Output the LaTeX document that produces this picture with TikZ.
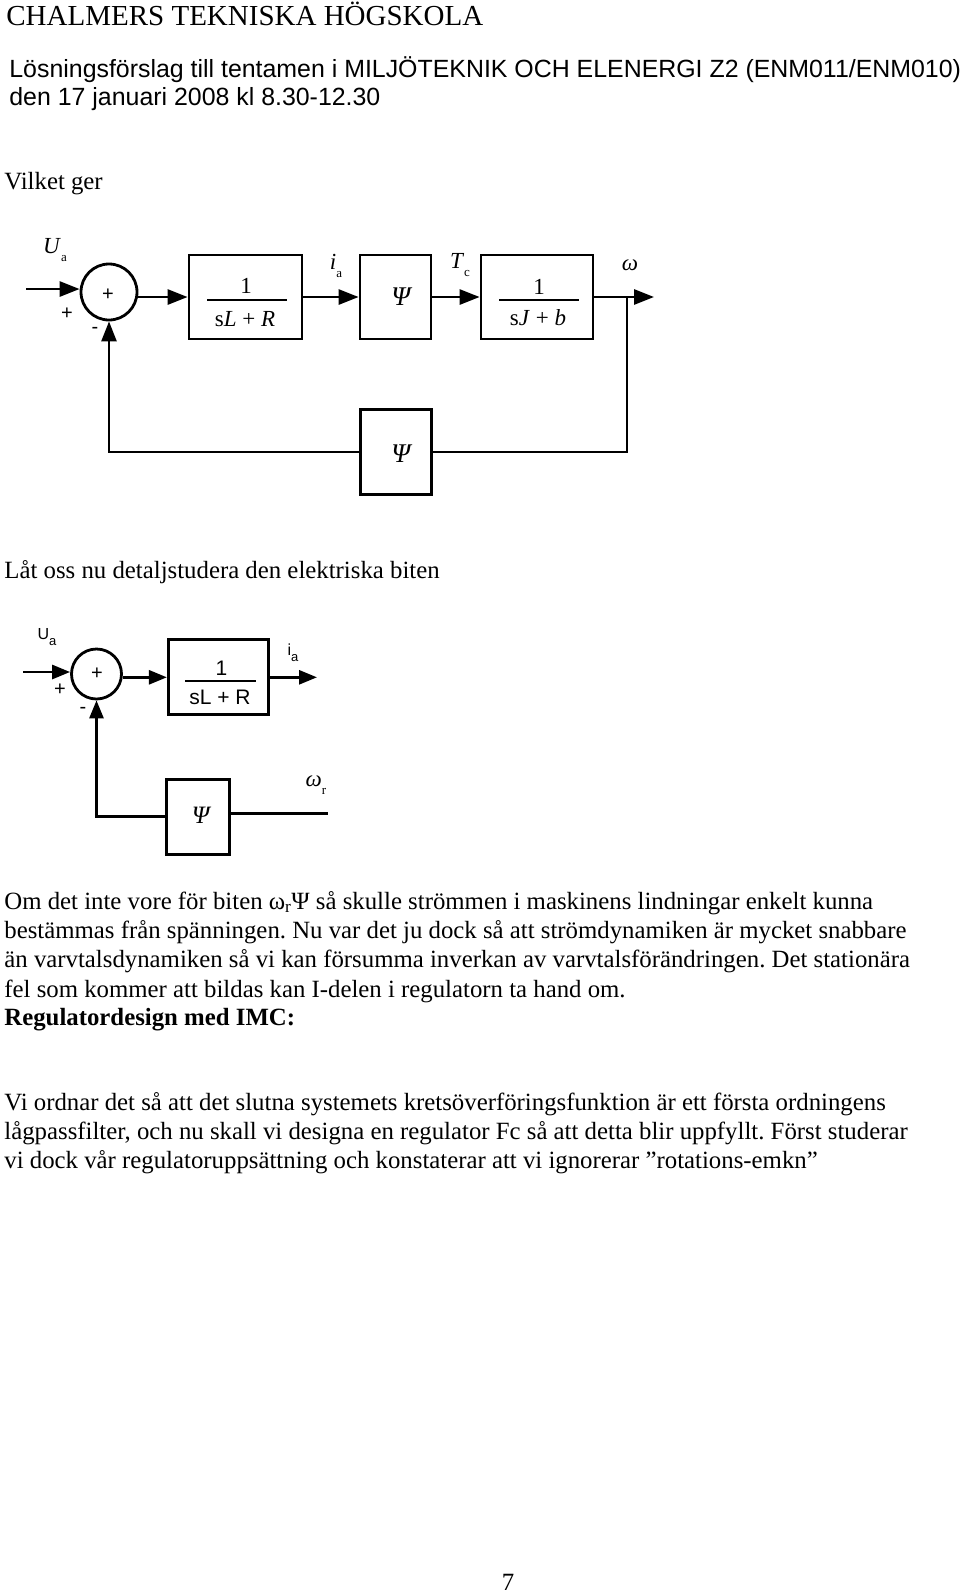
\documentclass[tikz,border=0pt]{standalone}
\usepackage{fontspec}
\setmainfont{Liberation Serif}
\setsansfont{Liberation Sans}
\usetikzlibrary{arrows.meta,calc}
\frenchspacing
\newcommand{\sbsc}[1]{\raisebox{-0.35em}{\fontsize{13}{13}\selectfont #1}}
\begin{document}
\begin{tikzpicture}[x=1pt,y=-1pt,
  line width=2.8pt,
  arr/.style={-{Triangle[length=20pt,width=15pt]}},
  arrb/.style={-{Triangle[length=18pt,width=14pt]}},
  blk/.style={draw,line width=2.8pt,inner sep=0pt},
  sumc/.style={draw,circle,line width=2.8pt,inner sep=0pt},
  txt/.style={anchor=base west,inner sep=0pt,font=\fontsize{24.8}{30}\selectfont},
  lbl/.style={inner sep=0pt,font=\fontsize{23}{23}\selectfont},
  psil/.style={inner sep=0pt,font=\fontsize{27}{27}\selectfont},
  slbl/.style={inner sep=0pt,font=\sffamily\fontsize{20}{20}\selectfont},
  sslbl/.style={inner sep=0pt,font=\sffamily\fontsize{16}{16}\selectfont}]
\useasboundingbox (0,0) rectangle (960,1593);
\fill[white] (0,0) rectangle (960,1593);

% header
\node[txt,font=\fontsize{29}{30}\selectfont] (h1) at (5,25) {CHALMERS TEKNISKA HÖGSKOLA};
\node[txt,font=\sffamily\fontsize{24.9}{30}\selectfont] (h2) at (8,77) {Lösningsförslag till tentamen i MILJÖTEKNIK OCH ELENERGI Z2 (ENM011/ENM010)};
\node[txt,font=\sffamily\fontsize{24.9}{30}\selectfont] (h3) at (8,105) {den 17 januari 2008 kl 8.30-12.30};

\node[txt] (t1) at (3,189) {Vilket ger};

% ---------- diagram 1 ----------
\node[sumc,minimum size=56pt] (sum1) at (109,292) {};
\node[slbl] (sp1) at (108,295) {+};
\node[slbl] (sp2) at (67,314) {+};
\node[slbl] (sm1) at (95,330) {-};
\node[lbl] (ua1) at (55,250) {\textit{U}\sbsc{a}};
\coordinate (in1) at (26,289);
\draw[arr] (in1) -- (in1 -| sum1.west);

\node[blk,minimum width=113pt,minimum height=84pt] (b1) at (245.5,297) {};
\node[lbl] (b1n) at (246,286) {1};
\draw (207,300) -- (287,300);
\node[lbl] (b1d) at (245,319) {s\textit{L} + \textit{R}};

\node[blk,minimum width=71pt,minimum height=84pt] (bp) at (395.5,297) {};
\node[psil] (bpl) at (402,297) {\textit{Ψ}};

\node[blk,minimum width=112pt,minimum height=84pt] (b3) at (537,297) {};
\node[lbl] (b3n) at (539,287) {1};
\draw (499,300) -- (579,300);
\node[lbl] (b3d) at (538,318) {s\textit{J} + \textit{b}};

\coordinate (out1) at (654,297);
\coordinate (br1) at (627,297);
\node[lbl] (ial) at (336,266) {\textit{i}\sbsc{a}};
\node[lbl] (tcl) at (460,265) {\textit{T}\sbsc{c}};
\node[lbl] (wl) at (630,265) {\textit{ω}};

\draw[arr] (sum1.east |- b1.west) -- (b1.west);
\draw[arr] (b1.east) -- (bp.west);
\draw[arr] (bp.east) -- (b3.west);
\draw[arr] (b3.east) -- (out1);

\node[blk,minimum width=71pt,minimum height=85pt] (bp2) at (396,452) {};
\node[psil] (bp2l) at (402,454) {\textit{Ψ}};
\draw (br1) |- (bp2.east);
\draw[arr] (bp2.west) -| (sum1.south);

\node[txt] (t2) at (3,578) {Låt oss nu detaljstudera den elektriska biten};

% ---------- diagram 2 ----------
\node[sumc,minimum size=50pt] (sum2) at (96.5,674) {};
\node[slbl] (sp3) at (97,674) {+};
\node[slbl] (sp4) at (60,690) {+};
\node[slbl] (sm2) at (83,710) {-};
\node[sslbl] (ua2) at (47,637) {U\sbsc{a}};
\coordinate (in2) at (23,672);
\draw[arrb] (in2) -- (in2 -| sum2.west);

\node[blk,minimum width=100pt,minimum height=75pt] (c1) at (218.3,677.3) {};
\node[slbl,font=\sffamily\fontsize{21}{21}\selectfont] (c1n) at (221.5,668) {1};
\draw (185,681) -- (256,681);
\node[slbl,font=\sffamily\fontsize{21}{21}\selectfont] (c1d) at (220,697) {sL + R};
\coordinate (out2) at (317,677.3);
\draw[arrb] (sum2.east |- c1.west) -- (c1.west);
\draw[arrb] (c1.east) -- (out2);
\node[sslbl] (ia2) at (293,653) {i\sbsc{a}};

\node[blk,minimum width=62.6pt,minimum height=75pt] (cp) at (198,816.6) {};
\node[psil,font=\fontsize{25}{25}\selectfont] (cpl) at (201.7,815) {\textit{Ψ}};
\coordinate (wr) at (328,813.5);
\draw (cp.east |- wr) -- (wr);
\node[lbl] (wrl) at (316,785) {\textit{ω}\sbsc{r}};
\draw[arrb] (cp.west) -| (sum2.south);

% ---------- text ----------
\node[txt] (p1) at (3,909) {Om det inte vore för biten ω\textsubscript{r}Ψ så skulle strömmen i maskinens lindningar enkelt kunna};
\node[txt] (p2) at (3,938) {bestämmas från spänningen. Nu var det ju dock så att strömdynamiken är mycket snabbare};
\node[txt] (p3) at (3,967) {än varvtalsdynamiken så vi kan försumma inverkan av varvtalsförändringen. Det stationära};
\node[txt] (p4) at (3,997) {fel som kommer att bildas kan I-delen i regulatorn ta hand om.};
\node[txt,font=\bfseries\fontsize{24.8}{30}\selectfont] (hd) at (3,1025) {Regulatordesign med IMC:};
\node[txt] (q1) at (3,1110) {Vi ordnar det så att det slutna systemets kretsöverföringsfunktion är ett första ordningens};
\node[txt] (q2) at (3,1139) {lågpassfilter, och nu skall vi designa en regulator Fc så att detta blir uppfyllt. Först studerar};
\node[txt] (q3) at (3,1168) {vi dock vår regulatoruppsättning och konstaterar att vi ignorerar ”rotations-emkn”};

\node[txt,anchor=base] (pg) at (508,1590) {7};
\end{tikzpicture}
\end{document}
